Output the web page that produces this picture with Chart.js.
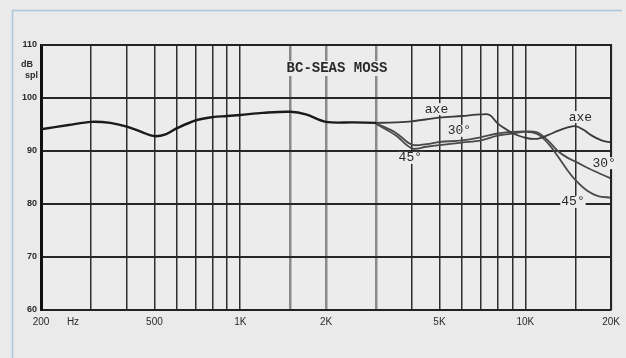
<!DOCTYPE html>
<html><head><meta charset="utf-8">
<script src="https://cdn.jsdelivr.net/npm/chart.js@4/dist/chart.umd.min.js"></script>
<style>html,body{margin:0;padding:0;background:#eaeaea;}#wrap{width:626px;height:358px;position:relative;}</style>
</head><body><div id="wrap"><canvas id="c" width="626" height="358"></canvas></div>
<script>
// ---- data ----
const chartTitle = "BC-SEAS MOSS";
const yUnit = ["dB", "spl"];
const xUnit = "Hz";
const gridFreqs = [200,300,400,500,600,700,800,900,1000,1500,2000,3000,4000,5000,6000,7000,8000,9000,10000,15000,20000];
const xTickLabels = {200:"200",500:"500",1000:"1K",2000:"2K",5000:"5K",10000:"10K",20000:"20K"};
const yTickValues = [60,70,80,90,100,110];

const commonFreq = [200,250,300,350,400,450,500,550,600,700,800,900,1000,1200,1500,1700,2000,2500,3000];
const commonDb   = [94.1,94.9,95.5,95.3,94.6,93.6,92.8,93.2,94.3,95.8,96.4,96.6,96.8,97.2,97.4,96.9,95.5,95.4,95.3];

const axeFreq = [3000,3500,4000,5000,6000,7000,7500,8000,8500,9000,10000,11000,12000,13000,14000,15000,16000,17000,18500,20000];
const axeDb   = [95.3,95.4,95.6,96.3,96.6,96.9,96.8,95.2,94.2,93.4,92.5,92.3,93.0,93.8,94.4,94.7,94.0,93.0,92.0,91.6];

const deg30Freq = [3000,3500,4000,4500,5000,6000,7000,8000,9000,10000,11000,12000,13000,14000,15000,17000,20000];
const deg30Db   = [95.2,93.5,91.2,91.3,91.7,92.0,92.6,93.3,93.6,93.7,93.5,92.0,90.0,88.8,88.0,86.5,84.8];

const deg45Freq = [3000,3500,4000,4500,5000,6000,7000,8000,9000,10000,11000,12000,13000,14000,15000,16500,18000,20000];
const deg45Db   = [95.1,93.0,90.5,90.8,91.1,91.6,92.0,92.9,93.3,93.6,93.2,91.5,89.0,86.5,84.5,82.5,81.5,81.2];

// curve labels: text with anchor in data space (Hz, dB)
const curveLabelText = ["axe","axe","30°","30°","45°","45°"];
const curveLabelFreq = [4880,15600,5870,18900,3950,14700];
const curveLabelDb   = [97.9,96.4,93.8,87.7,88.7,80.4];

// ---- build ----
const pts = (f, d) => f.map((x, i) => ({x, y: d[i]}));
const PLOT_BG = '#ececec';
const TXT = '#2a2a2a';

const decor = {
  id: 'decor',
  beforeDraw(chart) {
    const {ctx, chartArea: a} = chart;
    ctx.save();
    ctx.fillStyle = '#eaeaea';
    ctx.fillRect(0, 0, chart.width, chart.height);
    // outer panel lines
    ctx.strokeStyle = '#a9c6da';
    ctx.lineWidth = 1.5;
    ctx.beginPath();
    ctx.moveTo(12.5, 358); ctx.lineTo(12.5, 10.5); ctx.lineTo(622, 10.5);
    ctx.stroke();
    ctx.fillStyle = PLOT_BG;
    ctx.fillRect(a.left, a.top, a.right - a.left, a.bottom - a.top);
    ctx.restore();
  },
  afterDraw(chart) {
    const {ctx, chartArea: a, scales} = chart;
    ctx.save();
    // frame
    ctx.strokeStyle = '#222';
    ctx.lineWidth = 2;
    ctx.beginPath();
    ctx.moveTo(a.left, a.top); ctx.lineTo(a.right, a.top); ctx.lineTo(a.right, a.bottom);
    ctx.stroke();
    // title
    ctx.font = 'bold 14px "Liberation Mono", monospace';
    ctx.textAlign = 'center'; ctx.textBaseline = 'middle';
    const tw = ctx.measureText(chartTitle).width;
    ctx.fillStyle = PLOT_BG;
    ctx.fillRect(337 - tw/2 - 3, 61, tw + 6, 15);
    ctx.fillStyle = TXT;
    ctx.fillText(chartTitle, 337, 68);
    // y unit
    ctx.font = 'bold 9px "Liberation Sans", sans-serif';
    ctx.textAlign = 'right';
    ctx.fillText(yUnit[0], 33, 65);
    ctx.fillText(yUnit[1], 38, 76);
    // x unit
    ctx.font = '10px "Liberation Sans", sans-serif';
    ctx.textAlign = 'center';
    ctx.fillText(xUnit, 73, 322);
    // curve labels
    ctx.font = '13px "Liberation Mono", monospace';
    curveLabelText.forEach((t, i) => {
      const x = scales.x.getPixelForValue(curveLabelFreq[i]);
      const y = scales.y.getPixelForValue(curveLabelDb[i]);
      const w = ctx.measureText(t).width;
      ctx.fillStyle = PLOT_BG;
      ctx.fillRect(x - w/2 - 1, y - 6, w + 2, 12);
      ctx.fillStyle = TXT;
      ctx.fillText(t, x, y);
    });
    ctx.restore();
  }
};

const lightFreqs = [1500, 2000, 3000];

new Chart(document.getElementById('c'), {
  type: 'line',
  data: {
    datasets: [
      {data: pts(commonFreq, commonDb), borderColor: '#1a1a1a', borderWidth: 2.4},
      {data: pts(axeFreq, axeDb), borderColor: '#3a3a3a', borderWidth: 1.8},
      {data: pts(deg30Freq, deg30Db), borderColor: '#4a4a4a', borderWidth: 1.8},
      {data: pts(deg45Freq, deg45Db), borderColor: '#4a4a4a', borderWidth: 1.8}
    ]
  },
  options: {
    responsive: false,
    animation: false,
    events: [],
    layout: {padding: {left: 0, top: 45, right: 14, bottom: 0}},
    elements: {point: {radius: 0}, line: {tension: 0.35, fill: false}},
    plugins: {legend: {display: false}, tooltip: {enabled: false}},
    scales: {
      x: {
        type: 'logarithmic', min: 200, max: 20000,
        afterBuildTicks: s => { s.ticks = gridFreqs.map(v => ({value: v})); },
        afterFit: s => { s.height = 48; },
        ticks: {
          autoSkip: false, maxRotation: 0, padding: 6,
          color: TXT, font: {family: '"Liberation Sans", sans-serif', size: 10},
          callback: v => xTickLabels[v] || ''
        },
        grid: {
          drawTicks: false,
          color: c => lightFreqs.includes(c.tick && c.tick.value) ? '#8a8a8a' : '#2e2e2e',
          lineWidth: c => lightFreqs.includes(c.tick && c.tick.value) ? 2.5 : 1.5
        },
        border: {color: '#222', width: 2}
      },
      y: {
        min: 60, max: 110,
        afterBuildTicks: s => { s.ticks = yTickValues.map(v => ({value: v})); },
        afterFit: s => { s.width = 41; },
        ticks: {
          padding: 4, color: TXT,
          font: {family: '"Liberation Sans", sans-serif', size: 9, weight: 'bold'}
        },
        grid: {drawTicks: false, color: '#262626', lineWidth: 2},
        border: {color: '#111', width: 3}
      }
    }
  },
  plugins: [decor]
});
</script></body></html>
